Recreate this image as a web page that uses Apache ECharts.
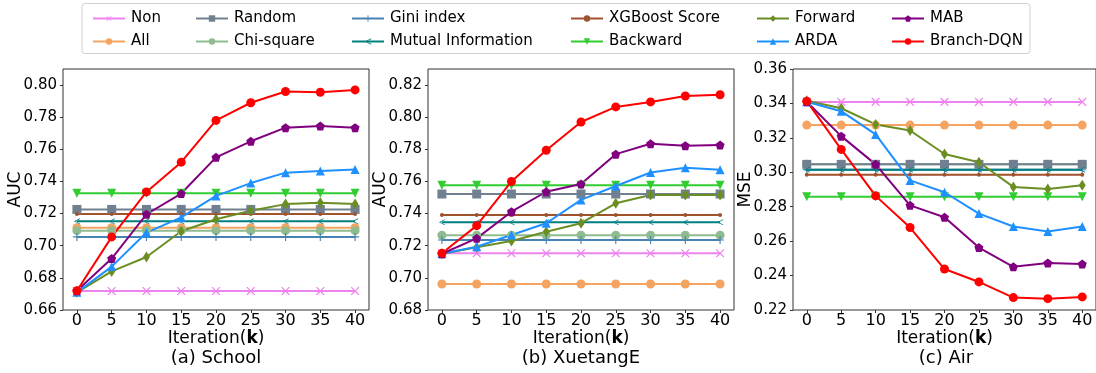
<!DOCTYPE html>
<html>
<head>
<meta charset="utf-8">
<script src="https://cdn.jsdelivr.net/npm/echarts@6/dist/echarts.min.js"></script>
<style>html,body{margin:0;padding:0;background:#fff}#c{width:1096px;height:373px}</style>
</head>
<body>
<div id="c"></div>
<script>
// ---------- data ----------
const iterations = [0, 5, 10, 15, 20, 25, 30, 35, 40];
const xTickValues = [0, 5, 10, 15, 20, 25, 30, 35, 40];
const yTicksSchool = [0.66, 0.68, 0.70, 0.72, 0.74, 0.76, 0.78, 0.80];
const yTicksXuetang = [0.68, 0.70, 0.72, 0.74, 0.76, 0.78, 0.80, 0.82];
const yTicksAir = [0.22, 0.24, 0.26, 0.28, 0.30, 0.32, 0.34, 0.36];
const methods = ['Non', 'All', 'Random', 'Chi-square', 'Gini index', 'Mutual Information',
  'XGBoost Score', 'Backward', 'Forward', 'ARDA', 'MAB', 'Branch-DQN'];
const subtitles = ['(a) School', '(b) XuetangE', '(c) Air'];

// School (AUC)
const schoolNon      = [0.6718,0.6718,0.6718,0.6718,0.6718,0.6718,0.6718,0.6718,0.6718];
const schoolAll      = [0.7112,0.7112,0.7112,0.7112,0.7112,0.7112,0.7112,0.7112,0.7112];
const schoolRandom   = [0.7226,0.7226,0.7226,0.7226,0.7226,0.7226,0.7226,0.7226,0.7226];
const schoolChi      = [0.7094,0.7094,0.7094,0.7094,0.7094,0.7094,0.7094,0.7094,0.7094];
const schoolGini     = [0.7055,0.7055,0.7055,0.7055,0.7055,0.7055,0.7055,0.7055,0.7055];
const schoolMI       = [0.7152,0.7152,0.7152,0.7152,0.7152,0.7152,0.7152,0.7152,0.7152];
const schoolXGB      = [0.7197,0.7197,0.7197,0.7197,0.7197,0.7197,0.7197,0.7197,0.7197];
const schoolBackward = [0.7326,0.7326,0.7326,0.7326,0.7326,0.7326,0.7326,0.7326,0.7326];
const schoolForward  = [0.671,0.684,0.693,0.709,0.7165,0.7218,0.7259,0.7268,0.7259];
const schoolARDA     = [0.671,0.687,0.7082,0.7176,0.731,0.739,0.7455,0.7465,0.7475];
const schoolMAB      = [0.672,0.692,0.7196,0.7325,0.755,0.765,0.7735,0.7745,0.7735];
const schoolDQN      = [0.672,0.7055,0.7335,0.752,0.778,0.789,0.796,0.7955,0.797];

// XuetangE (AUC)
const xtNon      = [0.7153,0.7153,0.7153,0.7153,0.7153,0.7153,0.7153,0.7153,0.7153];
const xtAll      = [0.6962,0.6962,0.6962,0.6962,0.6962,0.6962,0.6962,0.6962,0.6962];
const xtRandom   = [0.7522,0.7522,0.7522,0.7522,0.7522,0.7522,0.7522,0.7522,0.7522];
const xtChi      = [0.7265,0.7265,0.7265,0.7265,0.7265,0.7265,0.7265,0.7265,0.7265];
const xtGini     = [0.7236,0.7236,0.7236,0.7236,0.7236,0.7236,0.7236,0.7236,0.7236];
const xtMI       = [0.7346,0.7346,0.7346,0.7346,0.7346,0.7346,0.7346,0.7346,0.7346];
const xtXGB      = [0.7391,0.7391,0.7391,0.7391,0.7391,0.7391,0.7391,0.7391,0.7391];
const xtBackward = [0.7577,0.7577,0.7577,0.7577,0.7577,0.7577,0.7577,0.7577,0.7577];
const xtForward  = [0.715,0.719,0.7229,0.7287,0.734,0.7464,0.7516,0.7516,0.7516];
const xtARDA     = [0.715,0.7194,0.7267,0.734,0.7485,0.7572,0.7656,0.7686,0.7673];
const xtMAB      = [0.715,0.7246,0.7412,0.7536,0.7584,0.777,0.7835,0.7823,0.7827];
const xtDQN      = [0.7153,0.7325,0.760,0.7794,0.797,0.8064,0.8095,0.8132,0.814];

// Air (MSE)
const airNon      = [0.3409,0.3409,0.3409,0.3409,0.3409,0.3409,0.3409,0.3409,0.3409];
const airAll      = [0.3274,0.3274,0.3274,0.3274,0.3274,0.3274,0.3274,0.3274,0.3274];
const airRandom   = [0.3046,0.3046,0.3046,0.3046,0.3046,0.3046,0.3046,0.3046,0.3046];
const airChi      = [0.3046,0.3046,0.3046,0.3046,0.3046,0.3046,0.3046,0.3046,0.3046];
const airGini     = [0.3015,0.3015,0.3015,0.3015,0.3015,0.3015,0.3015,0.3015,0.3015];
const airMI       = [0.3015,0.3015,0.3015,0.3015,0.3015,0.3015,0.3015,0.3015,0.3015];
const airXGB      = [0.2986,0.2986,0.2986,0.2986,0.2986,0.2986,0.2986,0.2986,0.2986];
const airBackward = [0.2858,0.2858,0.2858,0.2858,0.2858,0.2858,0.2858,0.2858,0.2858];
const airForward  = [0.3415,0.3372,0.3278,0.3243,0.3106,0.3058,0.2915,0.2903,0.2924];
const airARDA     = [0.341,0.3355,0.322,0.2953,0.2884,0.276,0.2685,0.2656,0.2685];
const airMAB      = [0.341,0.321,0.3046,0.2808,0.2739,0.2563,0.2451,0.2473,0.2467];
const airDQN      = [0.3413,0.3133,0.2863,0.2679,0.2438,0.2363,0.2272,0.2266,0.2276];

// ---------- styles ----------
const FONT = 'DejaVu Sans';
const xPath = 'path://M4.45,0 H5.55 V4.45 H10 V5.55 H5.55 V10 H4.45 V5.55 H0 V4.45 H4.45 Z';
const plusPath = 'path://M4.3,0 H5.7 V4.3 H10 V5.7 H5.7 V10 H4.3 V5.7 H0 V4.3 H4.3 Z';
const chevronPath = 'path://M10,0 L0,5 L10,10 L10,8.6 L2.6,5 L10,1.4 Z';
const pentagonPath = 'path://M5,0 L10,3.8 L8.1,10 L1.9,10 L0,3.8 Z';
const styleMap = {
  'Non':               {color:'#EE82EE', symbol: xPath, size: 11, rotate: 45},
  'All':               {color:'#F4A460', symbol: 'circle', size: 9},
  'Random':            {color:'#708090', symbol: 'rect', size: 9},
  'Chi-square':        {color:'#8FBC8F', symbol: 'circle', size: 9},
  'Gini index':        {color:'#4682B4', symbol: plusPath, size: 8},
  'Mutual Information':{color:'#008080', symbol: chevronPath, size: 6},
  'XGBoost Score':     {color:'#A0522D', symbol: 'circle', size: 4},
  'Backward':          {color:'#32CD32', symbol: 'triangle', size: 9, rotate: 180},
  'Forward':           {color:'#6B8E23', symbol: 'diamond', size: [7, 11]},
  'ARDA':              {color:'#1E90FF', symbol: 'triangle', size: 9},
  'MAB':               {color:'#800080', symbol: pentagonPath, size: 9},
  'Branch-DQN':        {color:'#FF0000', symbol: 'circle', size: 9}
};

const datasets = [
  [schoolNon, schoolAll, schoolRandom, schoolChi, schoolGini, schoolMI, schoolXGB, schoolBackward, schoolForward, schoolARDA, schoolMAB, schoolDQN],
  [xtNon, xtAll, xtRandom, xtChi, xtGini, xtMI, xtXGB, xtBackward, xtForward, xtARDA, xtMAB, xtDQN],
  [airNon, airAll, airRandom, airChi, airGini, airMI, airXGB, airBackward, airForward, airARDA, airMAB, airDQN]
];
const yRanges = [[0.66, 0.81, yTicksSchool, 'AUC'], [0.68, 0.83, yTicksXuetang, 'AUC'], [0.22, 0.36, yTicksAir, 'MSE']];
const gridLefts = [63, 428, 793];
const GRID_W = 306, GRID_TOP = 69, GRID_H = 241;

const grids = gridLefts.map(l => ({left: l, top: GRID_TOP, width: GRID_W, height: GRID_H,
  show: true, borderColor: '#333', borderWidth: 1, backgroundColor: 'transparent'}));

const xAxes = gridLefts.map((l, i) => ({
  type: 'value', gridIndex: i, min: -2, max: 42,
  name: 'Iteration({b|k})', nameLocation: 'middle', nameGap: 20, nameMoveOverlap: false,
  nameTextStyle: {fontSize: 17, fontFamily: FONT, color: '#000', verticalAlign: 'top',
    rich: {b: {fontWeight: 'bold', fontSize: 17, fontFamily: FONT, color: '#000'}}},
  axisLine: {show: false, onZero: false}, splitLine: {show: false},
  axisTick: {show: true, length: 3, lineStyle: {color: '#333'}, customValues: xTickValues},
  axisLabel: {fontSize: 16, fontFamily: FONT, color: '#000', margin: 3, customValues: xTickValues}
}));

const yAxes = yRanges.map((r, i) => ({
  type: 'value', gridIndex: i, min: r[0], max: r[1],
  name: r[3], nameLocation: 'middle', nameGap: 39, nameRotate: 90, nameMoveOverlap: false,
  nameTextStyle: {fontSize: 17, fontFamily: FONT, color: '#000'},
  axisLine: {show: false, onZero: false}, splitLine: {show: false},
  axisTick: {show: true, length: 3, lineStyle: {color: '#333'}, customValues: r[2]},
  axisLabel: {fontSize: 15, fontFamily: FONT, color: '#000', margin: 6, customValues: r[2],
    formatter: v => v.toFixed(2)}
}));

const series = [];
datasets.forEach((ds, gi) => {
  ds.forEach((vals, mi) => {
    const name = methods[mi];
    const st = styleMap[name];
    const hidden = gi === 2 && (name === 'Chi-square' || name === 'Gini index');
    series.push({
      type: 'line', name: name, xAxisIndex: gi, yAxisIndex: gi,
      data: iterations.map((x, k) => [x, vals[k]]),
      symbol: st.symbol, symbolSize: st.size, symbolRotate: st.rotate || 0,
      showAllSymbol: true, animation: false, z: hidden ? 1 : 2,
      lineStyle: {color: st.color, width: 2},
      itemStyle: {color: st.color, borderWidth: 0}
    });
  });
});

const legendCols = [
  [['Non', 'All'], 87],
  [['Random', 'Chi-square'], 190],
  [['Gini index', 'Mutual Information'], 346],
  [['XGBoost Score', 'Backward'], 565],
  [['Forward', 'ARDA'], 751],
  [['MAB', 'Branch-DQN'], 886]
];
const legends = legendCols.map(c => ({
  orient: 'vertical', left: c[1], top: 6, itemWidth: 32, itemHeight: 8, itemGap: 8,
  selectedMode: false, data: c[0],
  textStyle: {fontSize: 15, fontFamily: FONT, color: '#000', padding: [0, 0, 0, 1]}
}));

const graphics = [{
  type: 'rect', shape: {x: 82, y: 3.5, width: 948, height: 50, r: 3},
  style: {fill: 'none', stroke: '#d0d0d0', lineWidth: 1}, z: 0
}].concat(subtitles.map((t, i) => ({
  type: 'text', x: gridLefts[i] + GRID_W / 2, y: 358,
  style: {text: t, font: '18px "' + FONT + '"', fill: '#000', align: 'center', verticalAlign: 'middle'}
})));

const chart = echarts.init(document.getElementById('c'), null, {renderer: 'canvas'});
chart.setOption({
  backgroundColor: '#fff', animation: false,
  grid: grids, xAxis: xAxes, yAxis: yAxes, series: series,
  legend: legends, graphic: graphics
});
</script>
</body>
</html>
